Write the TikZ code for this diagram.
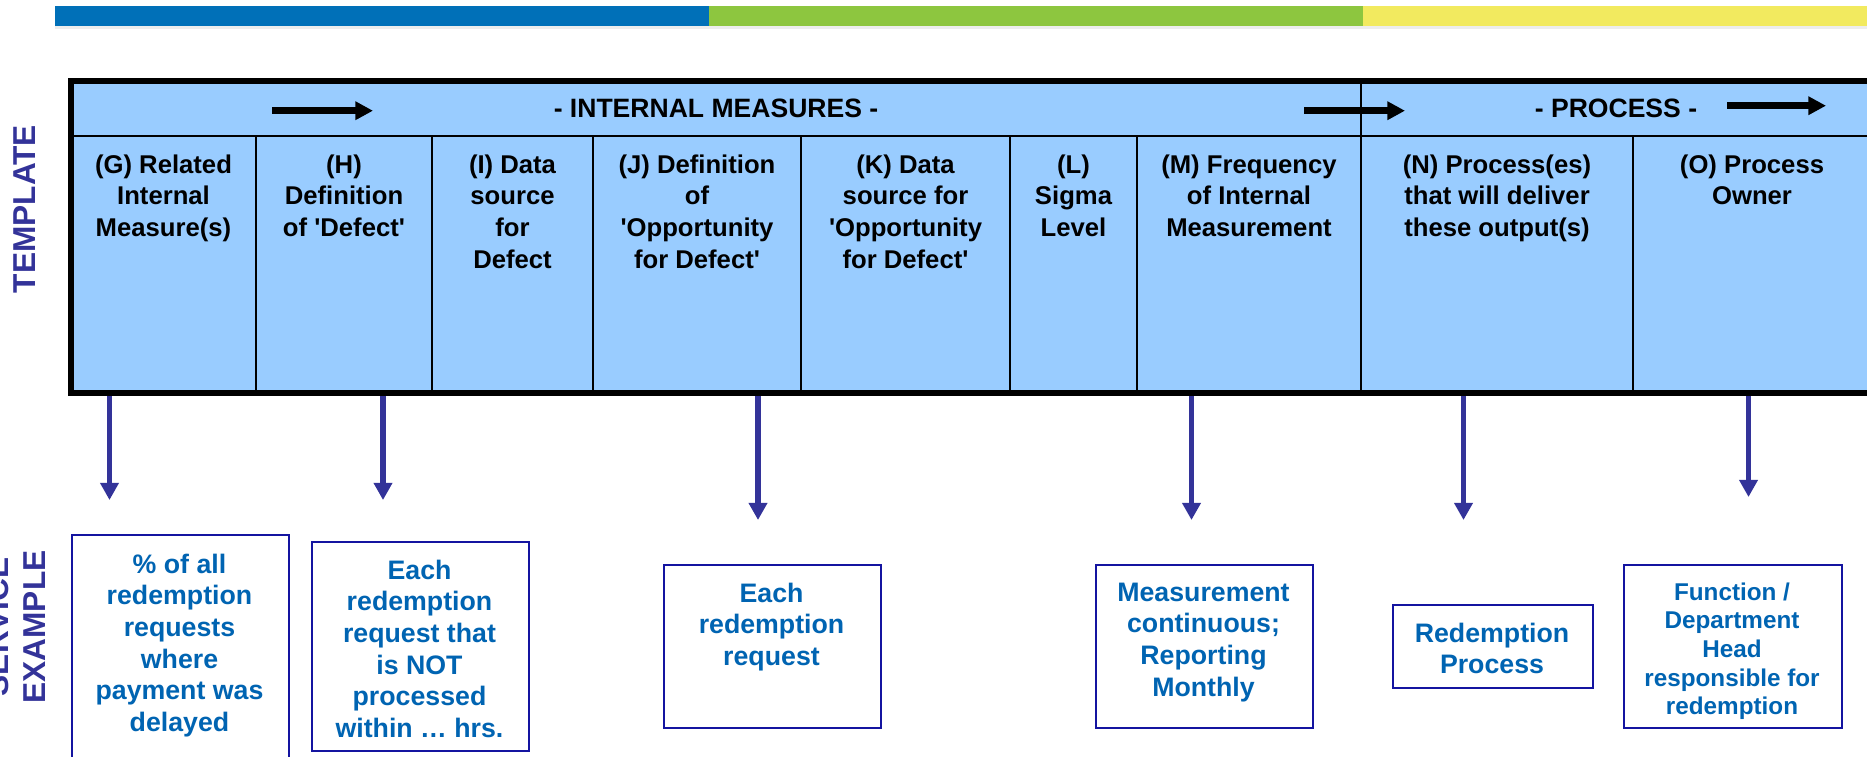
\documentclass[tikz,border=0pt]{standalone}
\usepackage{fontspec}
\newfontfamily\arial{Liberation Sans}
\usetikzlibrary{arrows.meta}

\definecolor{barblue}{RGB}{0,112,184}
\definecolor{bargreen}{RGB}{141,198,63}
\definecolor{baryellow}{RGB}{242,234,95}
\definecolor{cellblue}{RGB}{153,204,255}
\definecolor{navy}{RGB}{51,51,153}
\definecolor{boxline}{RGB}{20,20,160}
\definecolor{exblue}{RGB}{0,100,178}

\tikzset{
  colhead/.style={font=\arial\bfseries\fontsize{7.3}{9}\selectfont, align=center, anchor=north, inner sep=0pt, text=black},
  bandlabel/.style={font=\arial\bfseries\fontsize{7.55}{9}\selectfont, inner sep=0pt, text=black},
  sidelabel/.style={font=\arial\bfseries\fontsize{9}{10.7}\selectfont, text=navy, rotate=90, align=center, inner sep=0pt},
  exbox/.style={draw=boxline, line width=0.6pt, fill=white, inner sep=0pt, anchor=north west},
  extext/.style={font=\arial\bfseries\fontsize{7.6}{9}\selectfont, text=exblue, align=center, anchor=north, inner sep=0pt},
  flowarrow/.style={draw=black, line width=1.9pt, -{Triangle[length=5pt,width=5pt]}},
  downarrow/.style={draw=navy, line width=1.5pt, -{Triangle[length=4.9pt,width=5.1pt]}},
}

\begin{document}
\begin{tikzpicture}[x=0.01cm,y=-0.01cm]
\useasboundingbox (0,0) rectangle (1867,756);
\clip (0,0) rectangle (1867,756);

% colour band at the top
\fill[black!7] (55,26) rectangle (1867,29);
\fill[barblue] (55,6) rectangle (709,26);
\fill[bargreen] (709,6) rectangle (1363,26);
\fill[baryellow] (1363,6) rectangle (1867,26);

% template table
\fill[cellblue] (71,81) rectangle (1900,393);
\draw[line width=0.75pt] (71,136) -- (1900,136);
\foreach \x in {256,432,593,801,1010,1137,1633}
  \draw[line width=0.6pt] (\x,136) -- (\x,393);
\draw[line width=0.5pt] (1361,81) -- (1361,393);
\draw[line width=1.65pt] (1900,81) -- (71,81) -- (71,393) -- (1900,393);

% band labels and flow arrows
\node[bandlabel] (im) at (716,108) {- INTERNAL MEASURES -};
\node[bandlabel] (pr) at (1616,108) {- PROCESS -};
\coordinate (fa1s) at (272,110.7); \coordinate (fa1e) at (373,110.7);
\coordinate (fa2s) at (1304,110.7); \coordinate (fa2e) at (1405,110.7);
\coordinate (fa3s) at (1727,105.7); \coordinate (fa3e) at (1826,105.7);
\draw[flowarrow] (fa1s) -- (fa1e);
\draw[flowarrow] (fa2s) -- (fa2e);
\draw[flowarrow] (fa3s) -- (fa3e);

% column headings
\node[colhead] (colG) at (163.5,154) {(G) Related\\Internal\\Measure(s)};
\node[colhead] (colH) at (344,154) {(H)\\Definition\\of 'Defect'};
\node[colhead] (colI) at (512.5,154) {(I) Data\\source\\for\\Defect};
\node[colhead] (colJ) at (697,154) {(J) Definition\\of\\'Opportunity\\for Defect'};
\node[colhead] (colK) at (905.5,154) {(K) Data\\source for\\'Opportunity\\for Defect'};
\node[colhead] (colL) at (1073.5,154) {(L)\\Sigma\\Level};
\node[colhead] (colM) at (1249,154) {(M) Frequency\\of Internal\\Measurement};
\node[colhead] (colN) at (1497,154) {(N) Process(es)\\that will deliver\\these output(s)};
\node[colhead] (colO) at (1752,154) {(O) Process\\Owner};

% side labels
\node[sidelabel] (tpl) at (24.5,209) {TEMPLATE};
\node[sidelabel] (svc) at (15.8,627) {SERVICE\\EXAMPLE};

% example boxes
\node[exbox, minimum width=2.17cm, minimum height=2.5cm] (b1) at (71,534) {};
\node[exbox, minimum width=2.17cm, minimum height=2.09cm] (b2) at (311,541) {};
\node[exbox, minimum width=2.17cm, minimum height=1.63cm] (b3) at (663,564) {};
\node[exbox, minimum width=2.17cm, minimum height=1.63cm] (b4) at (1095,564) {};
\node[exbox, minimum width=2.00cm, minimum height=0.83cm] (b5) at (1392,604) {};
\node[exbox, minimum width=2.18cm, minimum height=1.63cm] (b6) at (1623,564) {};

\node[extext] (t1) at (179.5,553) {\% of all\\redemption\\requests\\where\\payment was\\delayed};
\node[extext] (t2) at (419.5,559) {Each\\redemption\\request that\\is NOT\\processed\\within … hrs.};
\node[extext] (t3) at (771.5,582) {Each\\redemption\\request};
\node[extext] (t4) at (1203.5,582) {Measurement\\continuous;\\Reporting\\Monthly};
\node[extext] (t5) at (1492,622) {Redemption\\Process};
\node[extext, font=\arial\bfseries\fontsize{6.9}{8.15}\selectfont] (t6) at (1732,582) {Function /\\Department\\Head\\responsible for\\redemption};

% arrows from the template columns down to the examples
\foreach \n/\x/\y in {1/109.5/500, 2/383/500, 3/758/520, 4/1191.5/520, 5/1463.5/520, 6/1748.5/497}{
  \coordinate (as\n) at (\x,396);
  \coordinate (ae\n) at (\x,\y);
  \draw[downarrow] (as\n) -- (ae\n);
}
\end{tikzpicture}
\end{document}
